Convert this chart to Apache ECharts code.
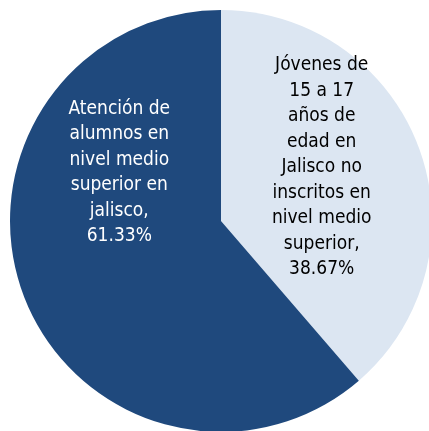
<!DOCTYPE html>
<html>
<head>
<meta charset="utf-8">
<script src="https://cdn.jsdelivr.net/npm/echarts@6/dist/echarts.min.js"></script>
<style>
  html, body { margin: 0; padding: 0; background: #fff; }
  #chart { width: 429px; height: 431px; }
</style>
</head>
<body>
<div id="chart"></div>
<script>
// datos
let categories = [
    "Jóvenes de\n15 a 17\naños de\nedad en\nJalisco no\ninscritos en\nnivel medio\nsuperior",
    "Atención de\nalumnos en\nnivel medio\nsuperior en\njalisco"
];
let values = [38.67, 61.33];
let colors = ["#DCE6F2", "#1F497D"];
let textColors = ["#000000", "#ffffff"];
let labelOffsets = [[-1, -16], [0, -86]];

let Chart = echarts.init(document.getElementById("chart"));

let data = [];
for (let i = 0; i < values.length; ++i) {
    data.push({
        name: categories[i],
        value: values[i],
        itemStyle: { color: colors[i] },
        label: { color: textColors[i], offset: labelOffsets[i] }
    });
}

let option = {
    animation: false,
    series: [{
        type: 'pie',
        center: [221, 221],
        radius: 211,
        startAngle: 90,
        clockwise: true,
        avoidLabelOverlap: false,
        itemStyle: { borderWidth: 0 },
        label: {
            show: true,
            position: 'inside',
            fontFamily: '"Liberation Sans Narrow", "DejaVu Sans Condensed", "Roboto Condensed", sans-serif',
            fontWeight: 'normal condensed',
            fontSize: 19,
            lineHeight: 25.5,
            align: 'center',
            formatter: function (p) {
                return p.name + ',\n' + p.value.toFixed(2) + '%';
            }
        },
        labelLine: { show: false },
        emphasis: { disabled: true },
        data: data
    }]
};

Chart.setOption(option);
</script>
</body>
</html>
